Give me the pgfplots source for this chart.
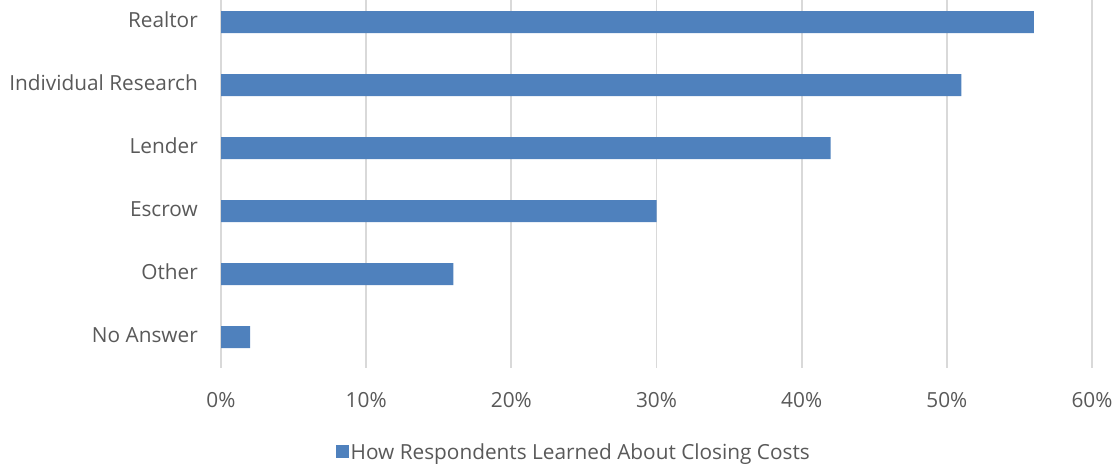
\documentclass[border=0pt]{standalone}
\usepackage{pgfplots}
\pgfplotsset{compat=1.18}
\usepackage{fontspec}
\setmainfont{Open Sans}
\definecolor{barblue}{RGB}{79,129,189}
\definecolor{txtgray}{RGB}{89,89,89}
\definecolor{gridgray}{RGB}{217,217,217}
\begin{document}
\begin{tikzpicture}
\useasboundingbox (0,0) rectangle (1118pt,465pt);
\begin{axis}[
  at={(221pt,97pt)}, anchor=south west,
  scale only axis, width=871pt, height=368pt,
  xbar, bar width=22pt,
  xmin=0, xmax=60, ymin=-0.49, ymax=5.35,
  xtick={0,10,20,30,40,50,60},
  xticklabels={0\%,10\%,20\%,30\%,40\%,50\%,60\%},
  ytick={0,1,2,3,4,5},
  yticklabels={No Answer,Other,Escrow,Lender,Individual Research,Realtor},
  xmajorgrids, major grid style={gridgray, line width=1.8pt},
  axis line style={draw=none},
  major tick length=0pt,
  tick label style={font=\fontsize{20.8}{24}\selectfont, text=txtgray},
  xticklabel style={anchor=base, inner sep=0pt, yshift=-40pt},
  yticklabel style={anchor=mid east, inner sep=0pt, xshift=-23pt, yshift=-3pt},
  legend style={at={(0.405,-0.228)}, anchor=center, draw=none, font=\fontsize{20.8}{24}\selectfont, text=txtgray, inner sep=0pt},
  legend image code/.code={\fill[barblue] (0pt,-6.5pt) rectangle (13pt,6.5pt);},
  legend cell align=left,
]
\addplot[fill=barblue, draw=none] coordinates {(2,0) (16,1) (30,2) (42,3) (51,4) (56,5)};
\addlegendentry{How Respondents Learned About Closing Costs}
\end{axis}
\end{tikzpicture}
\end{document}
